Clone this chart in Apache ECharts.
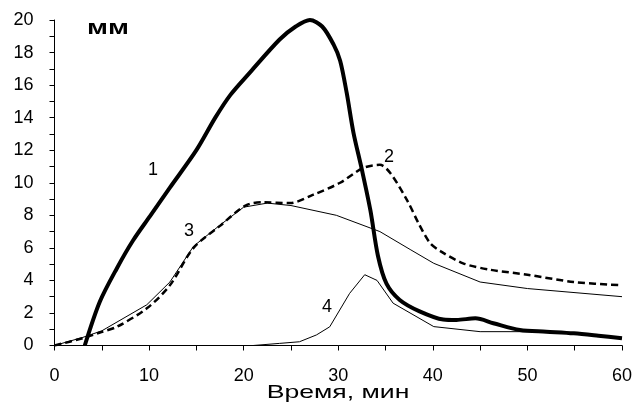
<!DOCTYPE html>
<html><head><meta charset="utf-8">
<script src="https://cdn.jsdelivr.net/npm/echarts@6/dist/echarts.min.js"></script>
<style>html,body{margin:0;padding:0;background:#fff}#c{width:636px;height:403px}</style>
</head><body><div id="c"></div>
<script>
// Curve 1 (thick solid)
const curve1 = [[3.2,0],[4.8,2.7],[6.6,4.75],[8.3,6.45],[10.1,7.95],[12.2,9.7],[15,12.0],[17,14.0],[18.6,15.4],[20.7,16.8],[23.8,18.8],[25.5,19.6],[27,20],[28.3,19.6],[29.5,18.5],[30.2,17.5],[30.9,15.5],[31.6,13.1],[32.5,10.8],[33.4,8.3],[34.2,5.5],[35.1,3.8],[36.5,2.8],[38.6,2.1],[41.1,1.6],[42.5,1.57],[44.5,1.67],[46.4,1.37],[49.2,0.95],[52,0.85],[54.9,0.75],[57.5,0.6],[60,0.44]];
// Curve 2 (dashed)
const curve2 = [[0,0],[3,0.45],[4.8,0.8],[6.6,1.15],[9.8,2.3],[12.2,3.7],[14.7,6.0],[17.5,7.35],[20.2,8.6],[22.1,8.8],[24.9,8.75],[27.3,9.25],[30.2,10.0],[32.6,10.9],[34.4,11.1],[35.5,10.6],[37.3,8.9],[38.5,7.5],[39.7,6.3],[40.8,5.8],[43.2,5.05],[46.1,4.65],[50,4.35],[54.9,3.9],[60,3.7]];
// Curve 3 (thin solid)
const curve3 = [[0,0],[3,0.5],[5,0.9],[9.75,2.5],[12.2,3.9],[14.7,6.1],[17.5,7.4],[20,8.5],[22.5,8.75],[25,8.6],[29.8,8.0],[34.4,7.0],[37.6,5.9],[40.1,5.05],[45,3.9],[50,3.5],[60,3.0]];
// Curve 4 (thin solid)
const curve4 = [[0,0],[21,0],[23.8,0.13],[25.9,0.23],[27.7,0.65],[29.1,1.15],[31.2,3.2],[32.8,4.35],[34.1,4.0],[35.8,2.6],[40.1,1.16],[45,0.85],[50,0.85],[55,0.75],[60,0.44]];
const xTicks = [0,10,20,30,40,50,60];
const yTicks = [0,2,4,6,8,10,12,14,16,18,20];
const curveLabels = ['1','2','3','4'];
const xAxisTitle = 'Время, мин';
const yUnit = 'мм';

const font = 'Liberation Sans, Arial, sans-serif';
const chart = echarts.init(document.getElementById('c'), null, {renderer:'canvas', width:636, height:403});
chart.setOption({
  animation:false,
  backgroundColor:'#fff',
  grid:{left:54.5, width:567.5, top:20, height:325.5, containLabel:false, outerBoundsMode:'none'},
  xAxis:{type:'value', min:xTicks[0], max:xTicks[xTicks.length-1], interval:10,
    axisLine:{lineStyle:{color:'#000', width:1}},
    axisTick:{show:true, length:5, inside:false, lineStyle:{color:'#000'}},
    minorTick:{show:true, splitNumber:2, length:5, lineStyle:{color:'#000'}},
    splitLine:{show:false},
    axisLabel:{color:'#000', fontSize:18, fontFamily:font, margin:22}},
  yAxis:{type:'value', min:yTicks[0], max:yTicks[yTicks.length-1], interval:2,
    axisLine:{show:true, lineStyle:{color:'#000', width:1}},
    axisTick:{show:true, length:5, lineStyle:{color:'#000'}},
    minorTick:{show:true, splitNumber:2, length:5, lineStyle:{color:'#000'}},
    splitLine:{show:false},
    axisLabel:{color:'#000', fontSize:18, fontFamily:font, margin:21}},
  series:[
    {type:'line', data:curve3, symbol:'none', smooth:false, lineStyle:{color:'#000', width:1}, z:2},
    {type:'line', data:curve4, symbol:'none', smooth:false, lineStyle:{color:'#000', width:1}, z:2},
    {type:'line', data:curve2, symbol:'none', smooth:0.3, lineStyle:{color:'#000', width:2.5, type:[7,4]}, z:3},
    {type:'line', data:curve1, symbol:'none', smooth:0.3, lineStyle:{color:'#000', width:4}, z:4}
  ],
  graphic:[
    {type:'text', x:338, y:393, scaleX:1.4, style:{text:xAxisTitle, fill:'#000', font:'19px '+font, align:'center', verticalAlign:'middle'}},
    {type:'text', x:87, y:18, scaleX:1.35, style:{text:yUnit, fill:'#000', font:'bold 21px '+font}},
    {type:'text', x:153, y:170, style:{text:curveLabels[0], fill:'#000', font:'18px '+font, align:'center', verticalAlign:'middle'}},
    {type:'text', x:389, y:157, style:{text:curveLabels[1], fill:'#000', font:'18px '+font, align:'center', verticalAlign:'middle'}},
    {type:'text', x:189, y:231, style:{text:curveLabels[2], fill:'#000', font:'18px '+font, align:'center', verticalAlign:'middle'}},
    {type:'text', x:327, y:307, style:{text:curveLabels[3], fill:'#000', font:'18px '+font, align:'center', verticalAlign:'middle'}}
  ]
});
</script></body></html>
